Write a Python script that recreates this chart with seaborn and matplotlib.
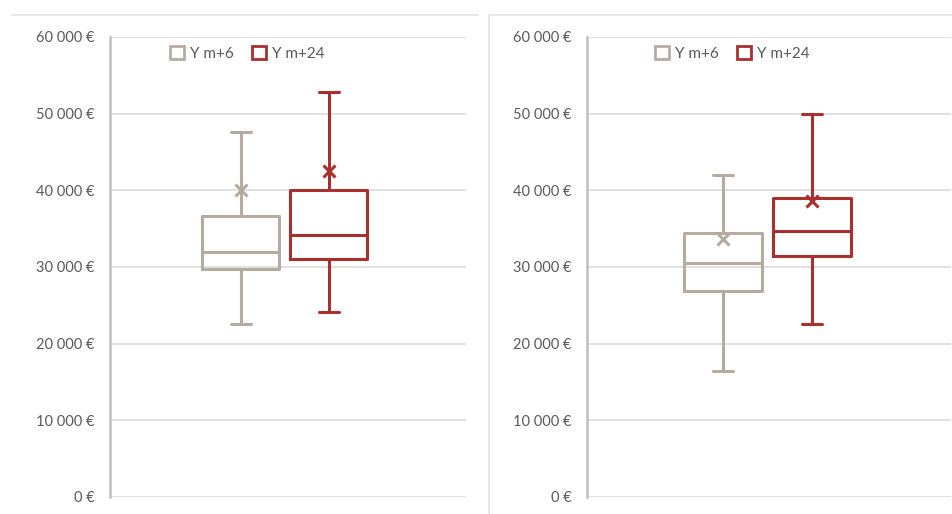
import matplotlib
matplotlib.use("Agg")
import matplotlib.pyplot as plt
from matplotlib.lines import Line2D
from matplotlib.patches import Patch
import seaborn as sns
import pandas as pd

# ---- data (five-number summary: min, Q1, median, Q3, max) and means ----
series = ["Y m+6", "Y m+24"]
left_m6 = [22600, 29700, 32000, 36700, 47600]
left_m24 = [24100, 31000, 34200, 40000, 52800]
left_means = [40000, 42500]
right_m6 = [16500, 26900, 30500, 34500, 42000]
right_m24 = [22600, 31500, 34700, 39000, 49900]
right_means = [33600, 38600]
y_ticks = [0, 10000, 20000, 30000, 40000, 50000, 60000]

colors = {"Y m+6": "#B5ABA1", "Y m+24": "#A8312F"}

sns.set_theme(style="white")
plt.rcParams["font.family"] = ["Lato", "DejaVu Sans"]

fig = plt.figure(figsize=(9.53, 5.14), dpi=100)
W, H = 953, 514

def make_df(a, b):
    return pd.DataFrame({
        "grp": ["g"] * (len(a) + len(b)),
        "series": [series[0]] * len(a) + [series[1]] * len(b),
        "value": a + b,
    })

def draw(ax, a, b, means, legend_x, xlim):
    df = make_df(a, b)
    ax.set_axisbelow(True)
    for t in y_ticks:
        ax.axhline(t, color="#D9D9D9", lw=1.1, zorder=0)
    sns.boxplot(data=df, x="grp", y="value", hue="series", hue_order=series,
                palette=colors, whis=(0, 100), fill=False, width=0.8, gap=0.125,
                linewidth=2.2, legend=False, ax=ax)
    # shrink whisker caps
    for ln in ax.lines:
        xd, yd = ln.get_xdata(), ln.get_ydata()
        if len(xd) == 2 and yd[0] == yd[1] and abs(xd[1] - xd[0]) < 0.3:
            c = (xd[0] + xd[1]) / 2
            half = abs(xd[1] - xd[0]) * 0.26
            ln.set_xdata([c - half, c + half])
    mdf = pd.DataFrame({"grp": ["g", "g"], "series": series, "value": means})
    sns.pointplot(data=mdf, x="grp", y="value", hue="series", hue_order=series,
                  palette=colors, markers="x", linestyles="none", dodge=0.4,
                  errorbar=None, markersize=9, markeredgewidth=2.2, legend=False, ax=ax)
    ax.set_ylim(0, 60000)
    ax.set_xlim(*xlim)
    ax.set_yticks(y_ticks)
    ax.set_yticklabels([f"{v:,.0f} €".replace(",", " ") for v in y_ticks],
                       color="#595959", fontsize=10.5)
    ax.tick_params(axis="y", length=0, pad=11)
    ax.set_xticks([])
    ax.set_xlabel("")
    ax.set_ylabel("")
    for s in ["top", "right", "bottom"]:
        ax.spines[s].set_visible(False)
    ax.spines["left"].set_color("#BFBFBF")
    ax.spines["left"].set_linewidth(1.8)
    handles = [Patch(facecolor="white", edgecolor=colors[s], linewidth=2, label=s)
               for s in series]
    leg = ax.legend(handles=handles, loc="upper center", bbox_to_anchor=(legend_x, 1.01),
                    ncol=2, frameon=False, fontsize=11, handlelength=0.9,
                    handleheight=0.9, handletextpad=0.4, columnspacing=1.2)
    for t in leg.get_texts():
        t.set_color("#595959")

ax1 = fig.add_axes([110 / W, 17 / H, 356 / W, 460 / H])
draw(ax1, left_m6, left_m24, left_means, 0.385, (-0.795, 0.823))
ax2 = fig.add_axes([587 / W, 17 / H, 364 / W, 460 / H])
draw(ax2, right_m6, right_m24, right_means, 0.40, (-0.811, 0.825))

# chart frame borders
fc = "#E3E3E3"
fig.add_artist(Line2D([12 / W, 478 / W], [1 - 15 / H, 1 - 15 / H], color=fc, lw=1.2))
fig.add_artist(Line2D([489 / W, 1.0], [1 - 15 / H, 1 - 15 / H], color=fc, lw=1.2))
fig.add_artist(Line2D([489 / W, 489 / W], [0, 1 - 15 / H], color=fc, lw=1.2))

fig.savefig("out.png", dpi=100)
